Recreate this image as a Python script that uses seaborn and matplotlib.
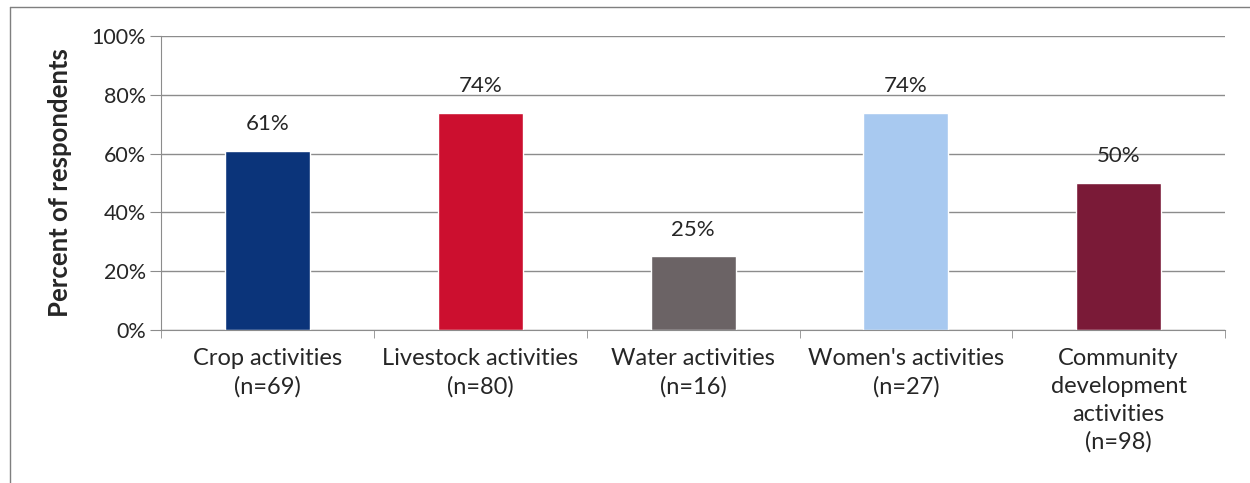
# Import the plotting libraries.
import matplotlib
matplotlib.use("Agg")
import matplotlib.pyplot as plt
import seaborn as sns
import pandas as pd
from matplotlib.lines import Line2D

# Chart values.
categories = [
    "Crop activities\n(n=69)",
    "Livestock activities\n(n=80)",
    "Water activities\n(n=16)",
    "Women's activities\n(n=27)",
    "Community\ndevelopment\nactivities\n(n=98)",
]
percent_values = [61, 74, 25, 74, 50]
bar_colors = ["#0b347a", "#cc0f2f", "#6b6365", "#a8c9f0", "#7a1a37"]

df = pd.DataFrame({"Category": categories, "Percent": percent_values})

sns.set_style("white")
plt.rcParams["font.family"] = ["Lato", "DejaVu Sans"]

fig = plt.figure(figsize=(12.5, 4.83), dpi=100)
ax = fig.add_axes([0.129, 0.317, 0.851, 0.608])

sns.barplot(
    data=df,
    x="Category",
    y="Percent",
    hue="Category",
    palette=bar_colors,
    saturation=1,
    width=0.4,
    legend=False,
    ax=ax,
)

# Grid lines and axis limits.
ax.set_ylim(0, 100)
ax.set_xlim(-0.5, len(categories) - 0.5)
ax.set_yticks([0, 20, 40, 60, 80, 100])
ax.set_yticklabels([f"{v}%" for v in [0, 20, 40, 60, 80, 100]], fontsize=15.5)
ax.yaxis.grid(True, color="#8c8c8c", linewidth=1)
ax.set_axisbelow(True)

# Category boundary ticks on the x axis.
ax.set_xticks(range(len(categories)))
ax.set_xticklabels(categories, fontsize=17, linespacing=1.4)
ax.set_xticks([i - 0.5 for i in range(len(categories) + 1)], minor=True)
ax.tick_params(axis="x", which="major", length=0, pad=13)
ax.tick_params(axis="x", which="minor", length=6, color="#8c8c8c", direction="out", bottom=True)
ax.tick_params(axis="y", length=8, color="#8c8c8c", direction="out", left=True, pad=3)

for side in ["top", "right"]:
    ax.spines[side].set_visible(False)
ax.spines["left"].set_color("#8c8c8c")
ax.spines["bottom"].set_color("#8c8c8c")

ax.set_xlabel("")
ax.set_ylabel("Percent of respondents", fontsize=18.5, fontweight="bold", labelpad=14)

# Value labels above each bar.
for i, v in enumerate(percent_values):
    ax.annotate(f"{v}%", (i, v), xytext=(0, 12), textcoords="offset points",
                ha="center", va="bottom", fontsize=16)

# Outer frame lines on the top and left of the picture.
fig.add_artist(Line2D([0.008, 1.0], [0.985, 0.985], color="#7f7f7f", linewidth=1))
fig.add_artist(Line2D([0.008, 0.008], [0.0, 0.985], color="#7f7f7f", linewidth=1))

fig.savefig("out.png", dpi=100)
plt.close(fig)
